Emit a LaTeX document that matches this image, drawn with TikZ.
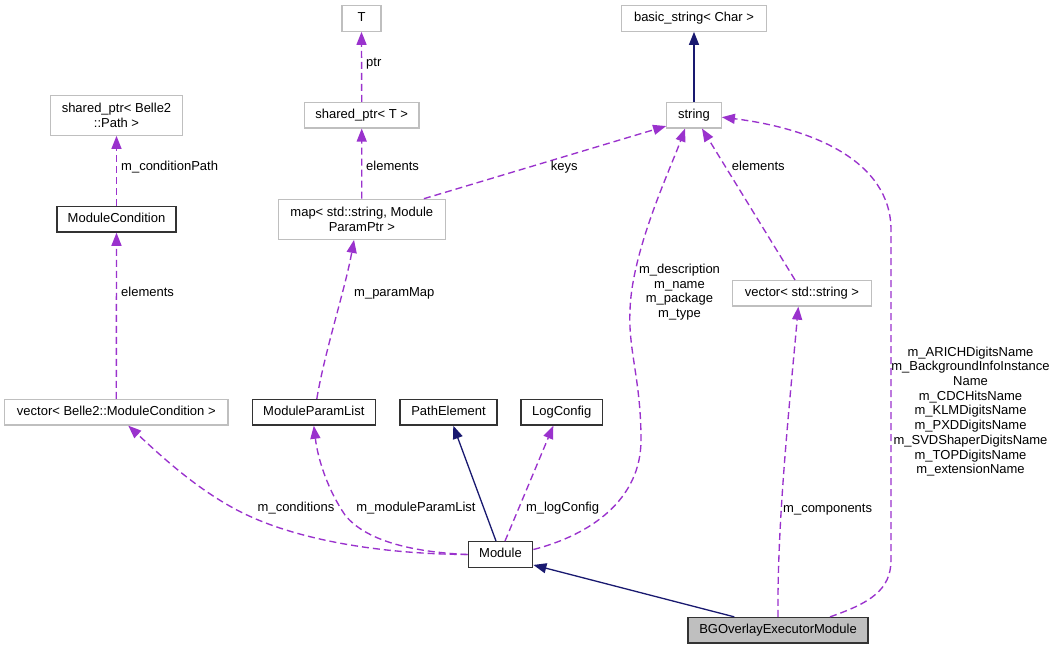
\documentclass[tikz,border=0pt]{standalone}
\usepackage{fontspec}
\setmainfont{Liberation Sans}
\usetikzlibrary{arrows.meta,calc}
\definecolor{depc}{HTML}{9A32CD}
\definecolor{inhc}{HTML}{191970}
\definecolor{extc}{HTML}{BFBFBF}
\definecolor{bgfill}{HTML}{BFBFBF}
\begin{document}
\begin{tikzpicture}[x=1pt,y=-1pt,
  every node/.style={font=\fontsize{13}{14.7}\selectfont, inner sep=0pt},
  lbl/.style={text height=9.5pt,text depth=2.7pt},
  extbox/.style={draw=extc, line width=1.2pt, fill=white, minimum height=25.5pt},
  docbox/.style={draw=black!80, line width=1.4pt, fill=white, minimum height=25.5pt},
  two/.style={minimum height=40pt, align=center},
  dep/.style={draw=depc, line width=1.35pt, dash pattern=on 7pt off 4pt, -{Triangle[length=13pt,width=10pt]}},
  inh/.style={draw=inhc, line width=1.3pt, -{Triangle[length=13pt,width=10pt]}},
]
\path[fill=white] (0,0) rectangle (1055,649);
\useasboundingbox (0,0) rectangle (1055,649);

% nodes
\node[extbox, lbl, minimum width=39pt] (T) at (361.5,18.5) {T};
\node[extbox, lbl, minimum width=114.7pt] (sptrT) at (361.7,115.2) {shared\_ptr< T >};
\node[extbox, two, minimum width=167pt] (map) at (361.8,219.3) {map< std::string, Module\\ParamPtr >};
\node[extbox, two, minimum width=131.6pt] (sptrPath) at (116.5,115.3) {shared\_ptr< Belle2\\::Path >};
\node[docbox, lbl, minimum width=119pt] (modcond) at (116.5,219.3) {ModuleCondition};
\node[extbox, lbl, minimum width=144.3pt] (basic) at (694,18.5) {basic\_string< Char >};
\node[extbox, lbl, minimum width=54.6pt] (string) at (694,115.2) {string};
\node[extbox, lbl, minimum width=138.6pt] (vecstr) at (802,293.3) {vector< std::string >};
\node[extbox, lbl, minimum width=223.3pt] (vecmc) at (116.3,412.3) {vector< Belle2::ModuleCondition >};
\node[docbox, lbl, minimum width=123pt] (mpl) at (313.8,412.3) {ModuleParamList};
\node[docbox, lbl, minimum width=97pt] (pathel) at (448.5,412.3) {PathElement};
\node[docbox, lbl, minimum width=81.3pt] (logcfg) at (561.7,412.3) {LogConfig};
\node[docbox, lbl, minimum width=64.4pt] (module) at (500.5,554.5) {Module};
\node[docbox, lbl, minimum width=180pt, fill=bgfill] (bg) at (778,630.3) {BGOverlayExecutorModule};

% edges
\draw[dep] (sptrT.north) -- (T.south);
\draw[dep] (map.north) -- (sptrT.south);
\draw[dep] ($(map.north east)+(-22,0)$) -- ($(string.south west)+(0,-2.5)$);
\draw[inh] (string.north) -- (basic.south);
\draw[dep] ($(vecstr.north)+(-7,0)$) -- ($(string.south)+(8,0)$);
\draw[dep] ($(module.east)+(0,-5)$) .. controls (590,535) and (641,500) .. (641,440)
   .. controls (641,380) and (628,350) .. (630,310)
   .. controls (632,250) and (670,170) .. ($(string.south)+(-9,0)$);
\draw[dep] ($(bg.north)+(52,0)$) .. controls (870,603) and (891,590) .. (891,560) -- (891,230)
   .. controls (891,160) and (810,128) .. ($(string.east)+(0,2)$);
\draw[dep] (bg.north) .. controls (777,520) and (790,400) .. ($(vecstr.south)+(-3.7,0)$);
\draw[dep] (module.west) .. controls (380,554) and (300,540) .. (247,515)
   .. controls (200,493) and (160,455) .. ($(vecmc.south)+(12,0)$);
\draw[dep] (module.west) .. controls (410,552) and (365,540) .. (345,515)
   .. controls (328,490) and (318,460) .. (mpl.south);
\draw[dep] ($(module.north)+(4.5,0)$) -- ($(logcfg.south)+(-8.4,0)$);
\draw[inh] ($(module.north)+(-4.5,0)$) -- ($(pathel.south)+(4.8,0)$);
\draw[inh] ($(bg.north)+(-43.7,0)$) -- ($(module.south east)+(0,-3)$);
\draw[dep] (vecmc.north) -- (modcond.south);
\draw[dep] (modcond.north) -- (sptrPath.south);
\draw[dep] ($(mpl.north)+(3,0)$) .. controls (325,350) and (345,290) .. ($(map.south)+(-7.8,0)$);

% labels
\node[lbl, anchor=west] (lptr) at (366,62.7) {ptr};
\node[lbl, anchor=west] (lel1) at (366,166.7) {elements};
\node[lbl] (lkeys) at (564.2,166.7) {keys};
\node[lbl, anchor=west] (lel2) at (731.7,166.7) {elements};
\node[align=center] (ldesc) at (679.5,292.2) {m\_description\\m\_name\\m\_package\\m\_type};
\node[lbl, anchor=west] (lcp) at (121,166.7) {m\_conditionPath};
\node[lbl, anchor=west] (lel3) at (121,292.7) {elements};
\node[lbl, anchor=west] (lpm) at (354,292.7) {m\_paramMap};
\node[lbl] (lcond) at (296,508.3) {m\_conditions};
\node[lbl] (lmpl) at (416,508.3) {m\_moduleParamList};
\node[lbl] (llog) at (562.5,508.3) {m\_logConfig};
\node[lbl, anchor=west] (lcomp) at (783,509) {m\_components};
\node[align=center] (lnames) at (970.5,411.5) {m\_ARICHDigitsName\\m\_BackgroundInfoInstance\\Name\\m\_CDCHitsName\\m\_KLMDigitsName\\m\_PXDDigitsName\\m\_SVDShaperDigitsName\\m\_TOPDigitsName\\m\_extensionName};
\end{tikzpicture}
\end{document}
